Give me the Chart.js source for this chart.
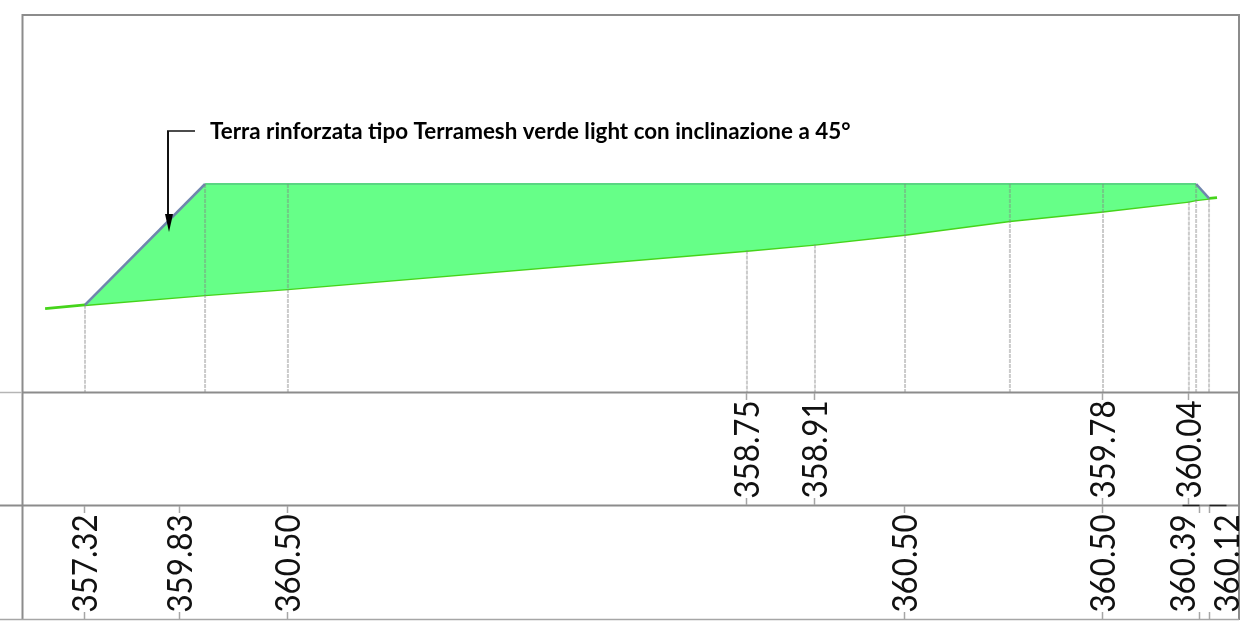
<!DOCTYPE html>
<html>
<head>
<meta charset="utf-8">
<title>Sezione terra rinforzata</title>
<script src="https://cdn.jsdelivr.net/npm/chart.js@4/dist/chart.umd.min.js"></script>
<style>
    html, body { margin: 0; padding: 0; background: #fff; }
    canvas { display: block; }
</style>
</head>
<body>
<canvas id="sectionChart" width="1255" height="630"></canvas>
<script>
// progressive in metres from the toe, levels in metres
const groundStations = [-1.05, 0, 3.16, 5.34, 17.42, 19.21, 21.58, 24.34, 26.79, 29.05, 29.24, 29.58, 29.79];
const groundLevels = [357.22, 357.32, 357.58, 357.74, 358.75, 358.91, 359.17, 359.53, 359.78, 360.04, 360.08, 360.12, 360.14];
const projectStations = [0, 3.16, 29.24, 29.58];
const projectLevels = [357.32, 360.50, 360.50, 360.12];
const crestStations = [3.16, 29.24];
const crestLevels = [360.50, 360.50];
const slopeStations = [0, 3.16];
const slopeLevels = [357.32, 360.50];
const backSlopeStations = [29.24, 29.58];
const backSlopeLevels = [360.50, 360.12];

const dropStations = [0, 3.16, 5.34, 17.42, 19.21, 21.58, 24.34, 26.79, 29.05, 29.24, 29.58];
const dropFromTop = [false, true, true, false, false, true, true, true, false, true, false];

const terrainRowStations = [17.42, 19.21, 26.79, 29.05];
const terrainRowLabels = ['358.75', '358.91', '359.78', '360.04'];
const projectRowStations = [0, 2.5, 5.34, 21.58, 26.79, 29.34, 29.61];
const projectRowLabels = ['357.32', '359.83', '360.50', '360.50', '360.50', '360.39', '360.12'];
const projectLabelShift = [0, 0, 0, 0, 0, -17, 17];

const noteText = 'Terra rinforzata tipo Terramesh verde light con inclinazione a 45°';

function toPoints(xs, ys) {
    return xs.map((x, i) => ({ x: x, y: ys[i] }));
}

function edge(label, xs, ys, color, width) {
    return {
        label: label,
        data: toPoints(xs, ys),
        borderColor: color,
        borderWidth: width,
        pointRadius: 0,
        fill: false
    };
}

function hLine(ctx, x1, x2, y, color, width) {
    ctx.strokeStyle = color;
    ctx.lineWidth = width;
    ctx.beginPath();
    ctx.moveTo(x1, y);
    ctx.lineTo(x2, y);
    ctx.stroke();
}

function vLine(ctx, x, y1, y2, color, width) {
    ctx.strokeStyle = color;
    ctx.lineWidth = width;
    ctx.beginPath();
    ctx.moveTo(x, y1);
    ctx.lineTo(x, y2);
    ctx.stroke();
}

function rotatedLabel(ctx, text, x, y) {
    ctx.save();
    ctx.translate(x, y);
    ctx.rotate(-Math.PI / 2);
    // Lato runs wide compared with the reference face, squeeze it along the text
    ctx.scale(0.92, 1);
    ctx.textAlign = 'center';
    ctx.textBaseline = 'middle';
    ctx.fillStyle = '#111';
    ctx.font = '34px Lato';
    ctx.fillText(text, 0, 0);
    ctx.restore();
}

const sectionTable = {
    id: 'sectionTable',
    afterDatasetsDraw(chart) {
        const ctx = chart.ctx;
        const xs = chart.scales.x;
        const ys = chart.scales.y;
        const gray = '#8c8c8c';
        const tickGray = '#a6a6a6';
        ctx.save();

        // vertical guides from the profile down to the first table row
        ctx.setLineDash([4, 1]);
        dropStations.forEach((st, i) => {
            const from = dropFromTop[i] ? 360.5 : groundLevels[groundStations.indexOf(st)];
            vLine(ctx, xs.getPixelForValue(st), ys.getPixelForValue(from), 392, 'rgba(130,130,130,0.42)', 2);
        });
        ctx.setLineDash([]);

        // frame and rows
        hLine(ctx, 22, 1239, 15, gray, 2);
        vLine(ctx, 22.5, 14, 620, gray, 2);
        vLine(ctx, 1239, 14, 620, gray, 2);
        hLine(ctx, 0, 22, 392.5, '#b5b5b5', 1.5);
        hLine(ctx, 22, 1239, 392.5, gray, 2);
        hLine(ctx, 0, 1239, 505.5, gray, 2);
        hLine(ctx, 0, 1239, 619.5, tickGray, 1.5);

        // row ticks and labels
        terrainRowStations.forEach((st, i) => {
            const x = Math.round(xs.getPixelForValue(st)) - 0.5;
            vLine(ctx, x, 393, 400, tickGray, 1.5);
            vLine(ctx, x, 498, 505, tickGray, 1.5);
            rotatedLabel(ctx, terrainRowLabels[i], x + 1.5, 449.5);
        });
        projectRowStations.forEach((st, i) => {
            const x = Math.round(xs.getPixelForValue(st)) - 0.5;
            vLine(ctx, x, 506, 513, tickGray, 1.5);
            vLine(ctx, x, 612, 619, tickGray, 1.5);
            if (projectLabelShift[i] !== 0) {
                hLine(ctx, x, x + projectLabelShift[i], 505.5, '#222', 1.5);
            }
            rotatedLabel(ctx, projectRowLabels[i], x + 1.5 + projectLabelShift[i], 563.5);
        });

        // note with elbow arrow
        hLine(ctx, 167, 195, 131, '#111', 1.5);
        vLine(ctx, 168, 131, 218, '#111', 2);
        ctx.fillStyle = '#000';
        ctx.beginPath();
        ctx.moveTo(165, 214);
        ctx.lineTo(173, 214);
        ctx.lineTo(169, 232);
        ctx.closePath();
        ctx.fill();

        ctx.font = 'bold 22.4px Lato';
        ctx.textAlign = 'left';
        ctx.textBaseline = 'alphabetic';
        ctx.fillStyle = '#000';
        ctx.fillText(noteText, 210, 139);

        ctx.restore();
    }
};

const sectionChart = new Chart(document.querySelector('#sectionChart'), {
    type: 'line',
    data: {
        datasets: [
            edge('Scarpata', slopeStations, slopeLevels, '#6f86ad', 2.5),
            edge('Scarpata monte', backSlopeStations, backSlopeLevels, '#6f86ad', 2.5),
            edge('Cresta', crestStations, crestLevels, '#5ad682', 2),
            {
                label: 'Progetto',
                data: toPoints(projectStations, projectLevels),
                borderColor: 'transparent',
                backgroundColor: '#66ff88',
                pointRadius: 0,
                tension: 0,
                fill: '+1'
            }, {
                label: 'Terreno',
                data: toPoints(groundStations, groundLevels),
                borderColor: '#45d41a',
                borderWidth: 2.8,
                pointRadius: 0,
                tension: 0,
                fill: false
            }
        ]
    },
    options: {
        responsive: false,
        animation: false,
        layout: { padding: 0 },
        plugins: {
            legend: { display: false },
            tooltip: { enabled: false }
        },
        scales: {
            x: { type: 'linear', display: false, min: -2.2368, max: 30.7895 },
            y: { type: 'linear', display: false, min: 348.763, max: 365.342 }
        }
    },
    plugins: [sectionTable]
});
</script>
</body>
</html>
